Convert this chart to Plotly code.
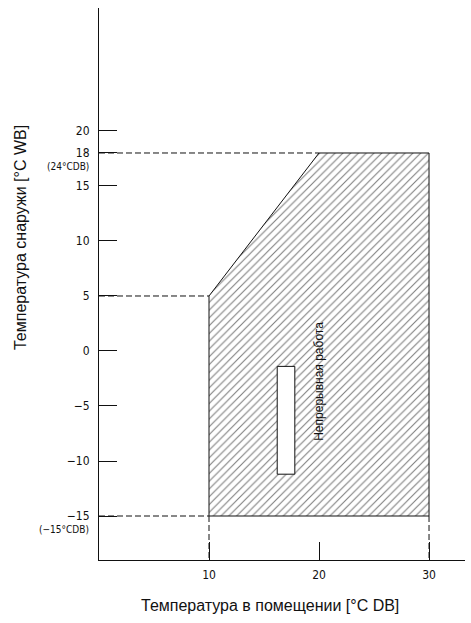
import plotly.graph_objects as go

# ---- data ----
zone_x = [10, 10, 20, 30, 30, 10]
zone_y = [-15, 5, 18, 18, -15, -15]

ref_h_y = [18, 5, -15]          # dashed horizontal guide levels
ref_h_x_end = [20, 10, 10]      # where each guide meets the zone
ref_v_x = [10, 30]              # dashed vertical guides below the zone
ref_v_y_top = -15

ytick_vals = [20, 18, 15, 10, 5, 0, -5, -10, -15]
ytick_text = ["20", "18", "15", "10", "5", "0", "−5", "−10", "−15"]
xtick_vals = [10, 20, 30]
xtick_text = ["10", "20", "30"]

notes_y = [18, -15]
notes_text = ["(24°CDB)", "(−15°CDB)"]

box_x = [16.2, 17.8]
box_y = [-11.2, -1.4]

zone_label = "Непрерывная работа"
zone_label_pos = (20, -2.8)

x_title = "Температура в помещении [°C DB]"
y_title = "Температура снаружи [°C WB]"

x_range = [0, 33.27]
y_range = [-19, 31.18]

NARROW = "Liberation Sans Narrow, DejaVu Sans Condensed, Arial Narrow, sans-serif"
SANS = "Liberation Sans, Arial, sans-serif"
INK = "#111111"

# plot-area geometry (pixels) used only to place the outer axis titles
PL, PW, PT, PH = 99, 366, 8, 552

fig = go.Figure()

# hatched operating zone
fig.add_trace(go.Scatter(
    x=zone_x, y=zone_y, mode="lines", fill="toself",
    fillcolor="white",
    fillpattern=dict(shape="/", size=5.5, solidity=0.2, fgcolor="#000000", bgcolor="white"),
    line=dict(color=INK, width=1), hoverinfo="skip", showlegend=False))

# dashed horizontal guides
for yv, xe in zip(ref_h_y, ref_h_x_end):
    fig.add_trace(go.Scatter(
        x=[x_range[0], xe], y=[yv, yv], mode="lines",
        line=dict(color=INK, width=1, dash="6px,3px"),
        hoverinfo="skip", showlegend=False))

# dashed vertical guides
for xv in ref_v_x:
    fig.add_trace(go.Scatter(
        x=[xv, xv], y=[ref_v_y_top, y_range[0]], mode="lines",
        line=dict(color=INK, width=1, dash="6px,3px"),
        hoverinfo="skip", showlegend=False))

# white box inside zone
fig.add_shape(type="rect", x0=box_x[0], x1=box_x[1], y0=box_y[0], y1=box_y[1],
              xref="x", yref="y", fillcolor="white",
              line=dict(color=INK, width=1), layer="above")

# zone label
fig.add_annotation(x=zone_label_pos[0], y=zone_label_pos[1], text=zone_label,
                   textangle=-90, showarrow=False, xref="x", yref="y",
                   font=dict(family=SANS, size=12, color=INK))

# CDB notes under tick labels
for yv, t in zip(notes_y, notes_text):
    fig.add_annotation(x=0, y=yv, xref="x", yref="y", text=t, showarrow=False,
                       xanchor="right", yanchor="top", xshift=-8, yshift=-6,
                       font=dict(family=NARROW, size=10, color=INK))

# axis titles (paper coordinates, outside the plot area)
fig.add_annotation(x=(270 - PL) / PW, y=1 - (605 - PT) / PH,
                   xref="paper", yref="paper", xanchor="center", yanchor="middle",
                   text=x_title, showarrow=False,
                   font=dict(family=SANS, size=16, color=INK))
fig.add_annotation(x=(20 - PL) / PW, y=1 - (238 - PT) / PH,
                   xref="paper", yref="paper", xanchor="center", yanchor="middle",
                   text=y_title, textangle=-90, showarrow=False,
                   font=dict(family=SANS, size=16, color=INK))

fig.update_layout(
    width=471, height=623,
    margin=dict(l=PL, r=471 - PL - PW, t=PT, b=623 - PT - PH),
    paper_bgcolor="white", plot_bgcolor="white",
    showlegend=False,
    xaxis=dict(range=x_range, tickvals=xtick_vals, ticktext=xtick_text,
               ticks="inside", ticklen=18, tickwidth=1, tickcolor=INK,
               showline=True, linecolor=INK, linewidth=1, mirror=False,
               showgrid=False, zeroline=False, ticklabelstandoff=4,
               tickfont=dict(family=NARROW, size=12, color=INK)),
    yaxis=dict(range=y_range, tickvals=ytick_vals, ticktext=ytick_text,
               ticks="inside", ticklen=18, tickwidth=1, tickcolor=INK,
               showline=True, linecolor=INK, linewidth=1, mirror=False,
               showgrid=False, zeroline=False, ticklabelstandoff=6,
               tickfont=dict(family=NARROW, size=12, color=INK)),
)

fig.write_html("out.html")
